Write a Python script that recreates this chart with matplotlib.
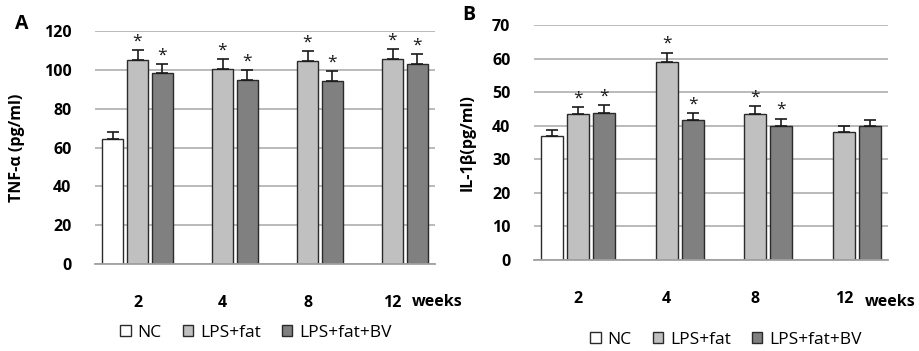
import numpy as np
import matplotlib.pyplot as plt
from matplotlib.patches import Patch

plt.rcParams['font.family'] = ['Open Sans', 'DejaVu Sans']

weeks = ['2', '4', '8', '12']
groups = ['NC', 'LPS+fat', 'LPS+fat+BV']
colors = ['white', '#c0c0c0', '#808080']

# TNF-alpha (panel A); NC measured only at week 2
tnf_nc = [64.2, 0, 0, 0]
tnf_nc_err = [3.8, 0, 0, 0]
tnf_fat = [104.9, 100.3, 104.4, 105.4]
tnf_fat_err = [5.3, 5.1, 5.3, 5.2]
tnf_bv = [98.2, 94.9, 94.4, 103.0]
tnf_bv_err = [4.8, 4.8, 4.8, 5.0]
tnf_star_fat = [True, True, True, True]
tnf_star_bv = [True, True, True, True]

# IL-1beta (panel B)
il_nc = [37.0, 0, 0, 0]
il_nc_err = [1.7, 0, 0, 0]
il_fat = [43.4, 59.0, 43.6, 38.1]
il_fat_err = [2.2, 2.8, 2.3, 1.9]
il_bv = [43.9, 41.7, 40.0, 39.8]
il_bv_err = [2.3, 2.0, 2.1, 2.0]
il_star_fat = [True, True, True, False]
il_star_bv = [True, True, True, False]

W, H = 919, 351
fig = plt.figure(figsize=(W / 100, H / 100), dpi=100)


def px_axes(left, top, right, bottom):
    return fig.add_axes([left / W, 1 - bottom / H, (right - left) / W, (bottom - top) / H])


def panel(ax, nc, nc_err, fat, fat_err, bv, bv_err, sfat, sbv, ymax, ystep, ylabel):
    x = np.arange(len(weeks))
    off = 0.294
    bw = 0.245
    ax.set_axisbelow(True)
    ax.yaxis.grid(True, color='#b4b4b4', lw=1.3)
    series = [(nc, nc_err, None), (fat, fat_err, sfat), (bv, bv_err, sbv)]
    for i, (vals, errs, stars) in enumerate(series):
        xs = x + (i - 1) * off
        vals = np.array(vals)
        errs = np.array(errs)
        show = vals > 0
        ax.bar(xs[show], vals[show], bw, color=colors[i], edgecolor='#2a2a2a', lw=1.0, zorder=2)
        ax.errorbar(xs[show], vals[show], yerr=[np.zeros(show.sum()), errs[show]],
                    fmt='none', ecolor='#1a1a1a', elinewidth=1.2, capsize=4, capthick=1.2, zorder=3)
        if stars is not None:
            for xx, v, e, s in zip(xs, vals, errs, stars):
                if s:
                    ax.annotate('*', (xx, v + e), xytext=(0, 0.5), textcoords='offset points',
                                ha='center', va='bottom', fontsize=12.5, color='#1a1a1a')
    ax.set_xlim(-0.5, len(weeks) - 0.5)
    ax.set_ylim(0, ymax)
    ax.set_yticks(np.arange(0, ymax + 1, ystep))
    ax.set_xticks(x)
    ax.set_xticklabels(weeks)
    for s in ['left', 'right', 'top']:
        ax.spines[s].set_visible(False)
    ax.spines['bottom'].set_color('#a0a0a0')
    ax.spines['bottom'].set_linewidth(1.3)
    ax.tick_params(axis='both', length=0, labelsize=11.5)
    ax.tick_params(axis='x', pad=22)
    ax.tick_params(axis='y', pad=17)
    for t in ax.get_xticklabels() + ax.get_yticklabels():
        t.set_fontweight('bold')
    ax.set_ylabel(ylabel, fontsize=11.5, fontweight='bold')


axA = px_axes(95, 31, 435, 264)
panel(axA, tnf_nc, tnf_nc_err, tnf_fat, tnf_fat_err, tnf_bv, tnf_bv_err,
      tnf_star_fat, tnf_star_bv, 120, 20, 'TNF-α (pg/ml)')
axA.yaxis.set_label_coords(-0.205, 0.5)
axA.text(3.23, -0.13, 'weeks', transform=axA.get_xaxis_transform(), ha='left', va='top',
         fontsize=11.5, fontweight='bold')
fig.text(15 / W, 1 - 24 / H, 'A', fontsize=14, fontweight='bold', va='center')

axB = px_axes(534, 25, 888, 260)
panel(axB, il_nc, il_nc_err, il_fat, il_fat_err, il_bv, il_bv_err,
      il_star_fat, il_star_bv, 70, 10, 'IL-1β(pg/ml)')
axB.yaxis.set_label_coords(-0.165, 0.5)
axB.text(3.24, -0.145, 'weeks', transform=axB.get_xaxis_transform(), ha='left', va='top',
         fontsize=11.5, fontweight='bold')
fig.text(462 / W, 1 - 15 / H, 'B', fontsize=14, fontweight='bold', va='center')

handles = [Patch(facecolor=c, edgecolor='#2a2a2a', lw=1.0) for c in colors]
for cx, cy in [(256, 333), (726, 340)]:
    fig.legend(handles, groups, loc='center', bbox_to_anchor=(cx / W, 1 - cy / H), ncol=3,
               frameon=False, handlelength=0.6, handleheight=0.6,
               handletextpad=0.4, columnspacing=1.2, borderpad=0,
               prop={'size': 12.5})

fig.savefig('out.png', dpi=100)
